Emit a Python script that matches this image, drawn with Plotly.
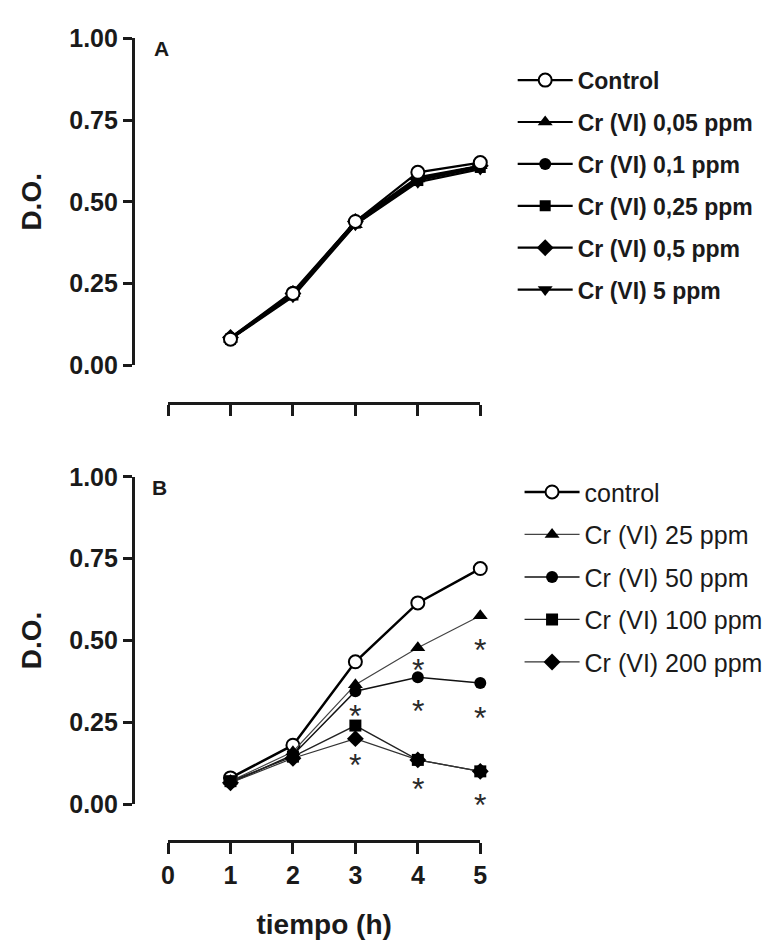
import plotly.graph_objects as go

# ---------------- data ----------------
time_h = [1, 2, 3, 4, 5]

# Panel A
a_names = ["Control", "Cr (VI) 0,05 ppm", "Cr (VI) 0,1 ppm", "Cr (VI) 0,25 ppm",
           "Cr (VI) 0,5 ppm", "Cr (VI) 5 ppm"]
a_control = [0.08, 0.22, 0.44, 0.59, 0.62]
a_005 = [0.08, 0.22, 0.43, 0.57, 0.61]
a_01 = [0.085, 0.225, 0.44, 0.575, 0.61]
a_025 = [0.08, 0.215, 0.435, 0.565, 0.605]
a_05 = [0.085, 0.22, 0.44, 0.57, 0.61]
a_5 = [0.08, 0.21, 0.43, 0.56, 0.60]

# Panel B
b_names = ["control", "Cr (VI) 25 ppm", "Cr (VI) 50 ppm", "Cr (VI) 100 ppm", "Cr (VI) 200 ppm"]
b_control = [0.08, 0.18, 0.435, 0.615, 0.72]
b_25 = [0.07, 0.16, 0.365, 0.478, 0.576]
b_50 = [0.065, 0.15, 0.345, 0.388, 0.37]
b_100 = [0.07, 0.145, 0.24, 0.135, 0.10]
b_200 = [0.065, 0.14, 0.20, 0.135, 0.10]

# significance asterisks (panel B)
star_x = [3, 3, 4, 4, 4, 5, 5, 5]
star_y = [0.294, 0.145, 0.433, 0.309, 0.071, 0.496, 0.288, 0.021]

y_ticks = [0, 0.25, 0.5, 0.75, 1.0]
y_ticklabels = ["0.00", "0.25", "0.50", "0.75", "1.00"]
x_ticks = [0, 1, 2, 3, 4, 5]

# ---------------- figure ----------------
FONT = "Liberation Sans, Arial, sans-serif"
INK = "#1a1a1a"
W, H = 774, 952

fig = go.Figure()

a_series = [a_control, a_005, a_01, a_025, a_05, a_5]
a_symbols = ["circle", "triangle-up", "circle", "square", "diamond", "triangle-down"]
a_sizes = [13, 13, 12, 11, 13, 13]
a_traces = []
for i, (name, vals, sym, sz) in enumerate(zip(a_names, a_series, a_symbols, a_sizes)):
    ctrl = i == 0
    a_traces.append(go.Scatter(
        x=time_h, y=vals, name=name, mode="lines+markers",
        xaxis="x", yaxis="y", legend="legend", legendgroup="a%d" % i, legendrank=i + 1,
        line=dict(color="black", width=2.2),
        marker=dict(symbol=sym, size=sz, color="white" if ctrl else "black",
                    line=dict(color="black", width=2 if ctrl else 0)),
        cliponaxis=False,
    ))
# draw control on top in A
for tr in a_traces[1:] + a_traces[:1]:
    fig.add_trace(tr)

b_series = [b_control, b_25, b_50, b_100, b_200]
b_symbols = ["circle", "triangle-up", "circle", "square", "diamond"]
b_sizes = [13, 13, 12, 12, 13]
b_lw = [2.5, 1.2, 1.5, 1.3, 1.2]
b_lc = ["black", "#444444", "#111111", "#222222", "#333333"]
for i, (name, vals, sym, sz, lw, lc) in enumerate(zip(b_names, b_series, b_symbols, b_sizes, b_lw, b_lc)):
    ctrl = i == 0
    fig.add_trace(go.Scatter(
        x=time_h, y=vals, name=name, mode="lines+markers",
        xaxis="x2", yaxis="y2", legend="legend2", legendgroup="b%d" % i, legendrank=i + 1,
        line=dict(color=lc, width=lw),
        marker=dict(symbol=sym, size=sz, color="white" if ctrl else "black",
                    line=dict(color="black", width=2 if ctrl else 0)),
        cliponaxis=False,
    ))

annotations = []
for sx, sy in zip(star_x, star_y):
    annotations.append(dict(x=sx, y=sy, xref="x2", yref="y2", text="*", showarrow=False,
                            font=dict(family=FONT, size=32, color="#2a2a2a"),
                            xanchor="center", yanchor="middle", yshift=-8))

annotations.append(dict(x=157 / W, y=1 - 36 / H, xref="paper", yref="paper", text="<b>A</b>",
                        showarrow=False, font=dict(family=FONT, size=21, color=INK),
                        xanchor="center", yanchor="middle"))
annotations.append(dict(x=155 / W, y=1 - 488 / H, xref="paper", yref="paper", text="<b>B</b>",
                        showarrow=False, font=dict(family=FONT, size=21, color=INK),
                        xanchor="center", yanchor="middle"))

x_dom = [164 / W, 482 / W]
y_pos = 128 / W
tickfont = dict(family=FONT, size=25, color=INK, weight="bold")
titlefont = dict(family=FONT, size=28, color=INK, weight="bold")

common_y = dict(range=[0, 1], tickvals=y_ticks, ticktext=y_ticklabels, ticks="outside",
                ticklen=9, tickwidth=2.5, tickcolor=INK, showline=True, linewidth=2.5,
                linecolor=INK, showgrid=False, zeroline=False, anchor="free", position=y_pos,
                tickfont=tickfont)
common_x = dict(range=[0, 5], tickvals=x_ticks, ticks="outside", ticklen=11, tickwidth=2.5,
                tickcolor=INK, showline=True, linewidth=2.5, linecolor=INK, showgrid=False,
                zeroline=False, anchor="free", domain=x_dom, tickfont=tickfont)

fig.update_layout(
    width=W, height=H, autosize=False,
    margin=dict(l=0, r=0, t=0, b=0),
    paper_bgcolor="white", plot_bgcolor="white",
    font=dict(family=FONT, color=INK),
    xaxis=dict(common_x, position=1 - 401 / H, showticklabels=False),
    yaxis=dict(common_y, domain=[1 - 362 / H, 1 - 25 / H],
               title=dict(text="D.O.", font=titlefont, standoff=18)),
    xaxis2=dict(common_x, position=1 - 852 / H, showticklabels=True,
                title=dict(text="tiempo (h)", font=titlefont, standoff=26)),
    yaxis2=dict(common_y, domain=[1 - 814 / H, 1 - 477 / H],
                title=dict(text="D.O.", font=titlefont, standoff=18)),
    legend=dict(x=515 / W, y=1 - 46 / H, xanchor="left", yanchor="top", itemwidth=55,
                font=dict(family=FONT, size=23, color=INK, weight="bold"),
                bgcolor="rgba(0,0,0,0)", tracegroupgap=9, traceorder="grouped"),
    legend2=dict(x=522 / W, y=1 - 469 / H, xanchor="left", yanchor="top", itemwidth=55,
                 font=dict(family=FONT, size=25, color=INK),
                 bgcolor="rgba(0,0,0,0)", tracegroupgap=7, traceorder="grouped"),
    annotations=annotations,
    showlegend=True,
)

fig.write_html("out.html")
